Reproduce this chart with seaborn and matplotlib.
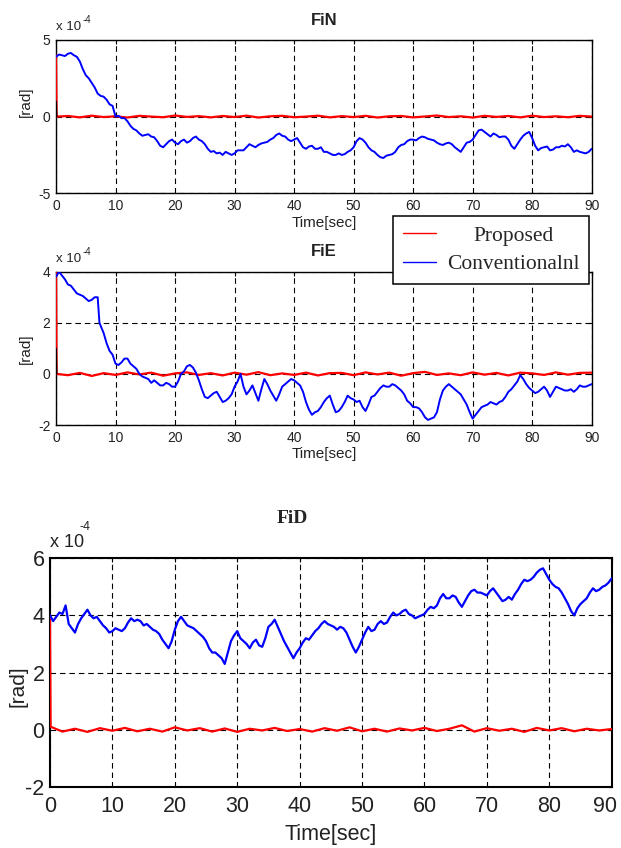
import numpy as np
import pandas as pd
import matplotlib
matplotlib.use("Agg")
import matplotlib.pyplot as plt
from matplotlib.lines import Line2D
from matplotlib.transforms import ScaledTranslation
import seaborn as sns

# ---------------- data (values in units of 1e-4 rad) ----------------
t_red = [0, 0.1] + list(range(2, 91, 2))
fin_red = [4.0, 0.0,
           0.04, -0.05, 0.06, -0.03, 0.02, -0.06, 0.05, 0.00, -0.04, 0.07,
           -0.02, 0.03, -0.05, 0.04, -0.03, 0.06, -0.06, 0.02, 0.05, -0.04,
           0.00, 0.06, -0.05, 0.03, -0.03, 0.05, -0.06, 0.02, 0.04, -0.05,
           0.01, 0.07, -0.03, 0.02, -0.06, 0.05, -0.02, 0.04, -0.05, 0.06,
           -0.03, 0.02, -0.04, 0.05, 0.00]
fie_red = [4.0, 0.0,
           -0.05, 0.04, -0.08, 0.03, -0.04, 0.06, -0.02, 0.05, -0.07, 0.02,
           0.06, -0.04, 0.03, -0.06, 0.05, -0.03, 0.07, -0.05, 0.02, -0.04,
           0.05, -0.06, 0.03, 0.04, -0.05, 0.06, -0.02, 0.05, -0.07, 0.03,
           0.08, -0.04, 0.02, -0.05, 0.06, -0.03, 0.04, -0.06, 0.05, 0.02,
           -0.04, 0.06, -0.03, 0.04, 0.05]
fid_red = [4.0, 0.1,
           -0.07, 0.03, -0.08, 0.05, -0.04, 0.06, -0.06, 0.03, -0.07, 0.08,
           -0.03, 0.05, -0.07, 0.04, -0.08, 0.03, -0.03, 0.06, -0.05, 0.02,
           -0.07, 0.05, -0.04, 0.08, -0.06, 0.03, -0.07, 0.04, -0.03, 0.06,
           -0.05, 0.03, 0.15, -0.07, 0.05, -0.04, 0.03, -0.08, 0.06, -0.03,
           0.05, -0.06, 0.03, -0.03, 0.02]

t_ref = [0, 0.1]
ref_vals = [1.0, 0.0]

# FiN conventional: whole seconds and half seconds
t_fin = list(range(0, 91))
fin_blue = [3.9, 4.0, 4.1, 4.0, 3.6, 2.7, 2.2, 1.5, 1.3, 0.8,
            0.0, -0.1, -0.3, -0.8, -1.1, -1.2, -1.3, -1.6, -2.0, -1.6,
            -1.7, -1.6, -1.7, -1.4, -1.5, -1.8, -2.3, -2.4, -2.5, -2.4,
            -2.4, -2.2, -2.0, -1.9, -1.85, -1.7, -1.5, -1.2, -1.25, -1.5,
            -1.5, -1.7, -2.1, -1.9, -2.1, -2.3, -2.4, -2.5, -2.5, -2.3,
            -2.0, -1.4, -1.7, -2.2, -2.5, -2.7, -2.5, -2.3, -1.85, -1.6,
            -1.5, -1.4, -1.35, -1.5, -1.7, -1.85, -1.7, -2.0, -2.3, -1.7,
            -1.5, -0.9, -1.0, -1.3, -1.2, -1.3, -1.5, -2.1, -1.5, -1.1,
            -1.4, -2.2, -2.0, -2.2, -2.0, -1.9, -1.8, -2.3, -2.3, -2.4,
            -2.1]
t_fin_h = [x + 0.5 for x in range(0, 90)]
fin_blue_h = [4.05, 3.95, 4.15, 3.9, 3.1, 2.5, 1.9, 1.35, 1.1, 0.7,
              0.05, -0.1, -0.6, -0.9, -1.25, -1.15, -1.35, -1.9, -1.8, -1.5,
              -1.8, -1.5, -1.6, -1.3, -1.6, -2.1, -2.25, -2.35, -2.3, -2.5,
              -2.2, -2.2, -1.8, -2.0, -1.75, -1.65, -1.4, -1.1, -1.3, -1.6,
              -1.4, -2.0, -1.95, -2.1, -2.0, -2.3, -2.5, -2.4, -2.45, -2.2,
              -1.6, -1.5, -2.0, -2.3, -2.65, -2.55, -2.45, -2.0, -1.8, -1.5,
              -1.55, -1.3, -1.45, -1.55, -1.8, -1.75, -1.8, -2.15, -2.0, -1.65,
              -1.2, -0.85, -1.15, -1.1, -1.35, -1.3, -1.9, -1.8, -1.25, -1.0,
              -1.9, -2.05, -1.95, -2.15, -2.0, -1.95, -2.0, -2.2, -2.35, -2.3]

# FiE conventional
t_fie = [0, 0.5, 1, 2, 3, 4, 5, 6, 7, 7.3] + list(range(8, 91))
fie_blue = [3.8, 4.0, 3.85, 3.5, 3.3, 3.1, 2.95, 2.9, 3.0, 2.0,
            1.6, 0.9, 0.4, 0.45, 0.6, 0.3, 0.0, -0.15, -0.35, -0.35,
            -0.45, -0.4, -0.5, 0.0, 0.3, 0.25, -0.25, -0.9, -0.85, -0.7,
            -1.1, -0.95, -0.5, 0.0, -0.8, -0.45, -1.05, -0.2, -0.65, -1.05,
            -0.5, -0.3, -0.25, -0.45, -1.1, -1.6, -1.45, -1.1, -0.85, -1.5,
            -1.3, -0.85, -1.0, -1.05, -1.45, -0.9, -0.7, -0.45, -0.5, -0.45,
            -0.65, -1.05, -1.3, -1.35, -1.7, -1.75, -1.5, -0.65, -0.4, -0.6,
            -0.8, -1.2, -1.75, -1.45, -1.25, -1.1, -1.2, -1.05, -0.7, -0.45,
            -0.05, -0.4, -0.65, -0.7, -0.5, -0.9, -0.5, -0.6, -0.65, -0.7,
            -0.45, -0.5, -0.4]
t_fie_h = [1.5, 2.5, 3.5, 4.5, 5.5, 6.5] + [x + 0.5 for x in range(8, 90)]
fie_blue_h = [3.7, 3.45, 3.15, 3.05, 2.85, 3.0,
              1.2, 0.75, 0.35, 0.6, 0.4, 0.2, -0.1, -0.2, -0.25, -0.45,
              -0.35, -0.5, -0.3, 0.1, 0.35, 0.05, -0.6, -0.95, -0.75, -0.9,
              -1.05, -0.8, -0.3, -0.5, -0.65, -0.75, -0.6, -0.4, -0.85, -0.8,
              -0.4, -0.2, -0.35, -0.7, -1.4, -1.5, -1.3, -0.95, -1.2, -1.45,
              -1.1, -0.95, -1.1, -1.3, -1.2, -0.85, -0.55, -0.5, -0.4, -0.55,
              -0.8, -1.15, -1.3, -1.5, -1.8, -1.7, -1.0, -0.5, -0.5, -0.7,
              -1.0, -1.5, -1.6, -1.3, -1.2, -1.15, -1.1, -0.9, -0.6, -0.3,
              -0.2, -0.55, -0.75, -0.6, -0.65, -0.7, -0.55, -0.65, -0.6, -0.6,
              -0.5, -0.45]

# FiD conventional
t_fid = [0, 1, 2, 2.5] + list(range(3, 91))
fid_blue = [4.0, 3.95, 4.05, 4.35,
            3.7, 3.4, 3.9, 4.2, 3.9, 3.8, 3.55,
            3.45, 3.5, 3.55, 3.9, 3.85, 3.65, 3.6, 3.45, 3.15, 2.85,
            3.5, 3.95, 3.65, 3.55, 3.35, 3.1, 2.7, 2.6, 2.3, 3.1,
            3.45, 3.1, 2.85, 3.15, 2.9, 3.6, 3.85, 3.35, 2.9, 2.5,
            2.85, 3.2, 3.3, 3.55, 3.8, 3.65, 3.5, 3.55, 3.15, 2.7,
            3.15, 3.6, 3.5, 3.8, 3.75, 4.1, 4.05, 4.2, 4.0, 3.95,
            4.05, 4.3, 4.35, 4.75, 4.6, 4.65, 4.3, 4.7, 4.9, 4.8,
            4.7, 4.95, 4.65, 4.55, 4.55, 4.9, 5.25, 5.25, 5.5, 5.65,
            5.25, 5.0, 4.8, 4.4, 4.0, 4.4, 4.6, 4.95, 4.9, 5.05,
            5.3]
t_fid_h = [0.5, 1.5] + [x + 0.5 for x in range(3, 90)]
fid_blue_h = [3.8, 4.1,
              3.55, 3.7, 4.05, 4.0, 3.95, 3.65, 3.4,
              3.55, 3.45, 3.75, 3.8, 3.8, 3.7, 3.5, 3.35, 3.0, 3.1,
              3.8, 3.8, 3.6, 3.45, 3.25, 2.85, 2.7, 2.5, 2.7, 3.3,
              3.2, 3.0, 3.05, 2.95, 3.2, 3.7, 3.6, 3.1, 2.7, 2.7,
              3.05, 3.15, 3.45, 3.7, 3.7, 3.6, 3.6, 3.4, 2.9, 2.9,
              3.4, 3.45, 3.7, 3.7, 3.95, 4.0, 4.15, 4.05, 3.9, 4.0,
              4.2, 4.25, 4.6, 4.6, 4.7, 4.45, 4.5, 4.85, 4.8, 4.75,
              4.85, 4.8, 4.5, 4.65, 4.75, 5.1, 5.2, 5.35, 5.6, 5.45,
              5.1, 4.95, 4.6, 4.15, 4.25, 4.5, 4.8, 4.85, 5.0, 5.15]

x_ticks = [0, 10, 20, 30, 40, 50, 60, 70, 80, 90]
fin_yticks = [-5, 0, 5]
fie_yticks = [-2, 0, 2, 4]
fid_yticks = [-2, 0, 2, 4, 6]
series_names = ["Proposed", "Conventionalnl"]

# ---------------- style ----------------
sns.set_style("white")
plt.rcParams["font.family"] = ["Liberation Sans", "DejaVu Sans"]
plt.rcParams["axes.unicode_minus"] = False

RED = "#ff0000"
BLUE = "#0000ff"


def make_df(tr, vr, tb, vb, tbh, vbh, with_ref):
    blue = pd.concat([pd.DataFrame({"t": tb, "v": vb}),
                      pd.DataFrame({"t": tbh, "v": vbh})]).sort_values("t")
    blue["s"] = "blue"
    parts = [pd.DataFrame({"t": tr, "v": vr, "s": "red"}), blue]
    if with_ref:
        parts.append(pd.DataFrame({"t": t_ref, "v": ref_vals, "s": "ref"}))
    return pd.concat(parts, ignore_index=True)


def draw(ax, df, yticks, big=False):
    pal = {"red": RED, "blue": BLUE, "ref": "black"}
    blw = 1.6 if big else 1.4
    for key, lw, z in [("red", 1.6, 3), ("blue", blw, 4), ("ref", 1.2, 5)]:
        sub = df[df["s"] == key]
        if len(sub) == 0:
            continue
        sns.lineplot(data=sub, x="t", y="v", color=pal[key], lw=lw,
                     estimator=None, sort=False, ax=ax, zorder=z, legend=False)
    ax.set_xlim(0, 90)
    ax.set_ylim(yticks[0], yticks[-1])
    ax.set_xticks(x_ticks)
    ax.set_yticks(yticks)
    ax.grid(True, color="black", linestyle=(0, (5, 3.5)), linewidth=0.8)
    ax.set_axisbelow(True)
    fs = 15.5 if big else 10
    ax.tick_params(direction="in", length=3, width=0.8, top=True, right=True,
                   labelsize=fs, pad=4, colors="black",
                   labelcolor="#222222")
    if big:
        ax.tick_params(axis="x", pad=7)
    for sp in ax.spines.values():
        sp.set_visible(True)
        sp.set_color("black")
        sp.set_linewidth(1.5 if big else 1.0)
    ax.set_xlabel("")
    ax.set_ylabel("")


fig = plt.figure(figsize=(6.21, 8.48), dpi=100)
fig.patch.set_facecolor("white")

ax1 = fig.add_axes([0.0902, 0.7721, 0.8626, 0.1808])
ax2 = fig.add_axes([0.0902, 0.4988, 0.8626, 0.1808])
ax3 = fig.add_axes([0.0805, 0.0723, 0.9045, 0.2693])

draw(ax1, make_df(t_red, fin_red, t_fin, fin_blue, t_fin_h, fin_blue_h, True), fin_yticks)
draw(ax2, make_df(t_red, fie_red, t_fie, fie_blue, t_fie_h, fie_blue_h, True), fie_yticks)
draw(ax3, make_df(t_red, fid_red, t_fid, fid_blue, t_fid_h, fid_blue_h, False), fid_yticks, big=True)

# keep the last bottom tick label of the large panel inside the canvas
last = ax3.xaxis.get_major_ticks()[-1].label1
last.set_transform(last.get_transform() + ScaledTranslation(-0.07, 0, fig.dpi_scale_trans))

# titles
ax1.set_title("FiN", fontsize=12, fontweight="bold", pad=11, color="#222222")
ax2.set_title("FiE", fontsize=12, fontweight="bold", pad=11, color="#222222")
fig.text(292 / 621, 1 - 523 / 848, "FiD", fontsize=14, fontweight="bold",
         family=["Liberation Serif", "DejaVu Serif"], ha="center", va="baseline")

# axis labels
for ax, ly in [(ax1, 0.60), (ax2, 0.50)]:
    ax.set_xlabel("Time[sec]", fontsize=11, labelpad=2, color="#222222")
    ax.set_ylabel("[rad]", fontsize=11, color="#222222")
    ax.yaxis.set_label_coords(-0.043, ly)
ax3.set_xlabel("Time[sec]", fontsize=15.5, labelpad=5, color="#222222")
ax3.set_ylabel("[rad]", fontsize=15, color="#222222")
ax3.yaxis.set_label_coords(-0.040, 0.44)

# exponent labels
for ax, yb, ye, fs1, fs2, xe in [(ax1, 1.046, 1.098, 9.5, 7, 0.050),
                                  (ax2, 1.044, 1.096, 9.5, 7, 0.050),
                                  (ax3, 1.030, 1.110, 13, 9, 0.053)]:
    ax.text(0.0, yb, "x 10", transform=ax.transAxes, fontsize=fs1,
            ha="left", va="bottom", color="#222222")
    ax.text(xe, ye, "-4", transform=ax.transAxes, fontsize=fs2,
            ha="left", va="bottom", color="#222222")

# legend
handles = [Line2D([0], [0], color=RED, lw=1.0),
           Line2D([0], [0], color=BLUE, lw=1.0)]
leg = fig.legend(handles, series_names, loc="upper left",
                 bbox_to_anchor=(393 / 621, 1 - 216 / 848),
                 borderaxespad=0, frameon=True, fancybox=False,
                 edgecolor="black", framealpha=1,
                 prop={"family": ["Liberation Serif", "DejaVu Serif"], "size": 15.5},
                 handlelength=1.55, handletextpad=0.5, borderpad=0.45,
                 labelspacing=0.4)
leg.get_frame().set_linewidth(1.1)
leg.set_zorder(10)

# centre the legend labels within their column
fig.canvas.draw()
texts = leg.get_texts()
widths = [t.get_window_extent().width for t in texts]
wmax = max(widths)
for t, w in zip(texts, widths):
    t.set_position(((wmax - w) / 2.0, 0))

fig.savefig("out.png", dpi=100, facecolor="white")
